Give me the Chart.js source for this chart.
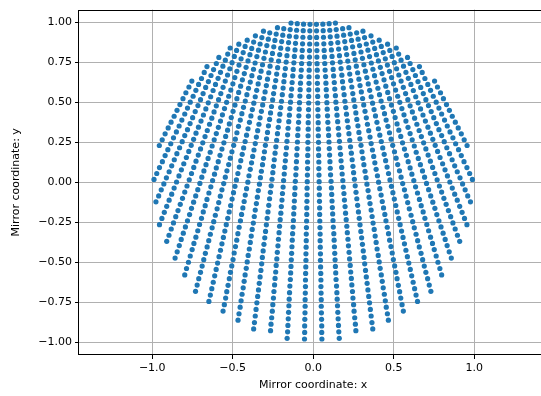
<!DOCTYPE html>
<html>
<head>
<meta charset="utf-8">
<script src="https://cdn.jsdelivr.net/npm/chart.js@4.4.1/dist/chart.umd.min.js"></script>
<style>
  html, body { margin: 0; padding: 0; background: #fff; overflow: hidden; }
  #wrap { position: relative; width: 550px; height: 396px; }
</style>
</head>
<body>
<div id="wrap"><canvas id="mirrorChart" width="550" height="396"></canvas></div>
<script>
// Tick labels
const xTicks = [-1.0, -0.5, 0.0, 0.5, 1.0];
const yTicks = [-1.0, -0.75, -0.5, -0.25, 0.0, 0.25, 0.5, 0.75, 1.0];

// Points, one list per fan column (inner column first).
// y values are the same for the left and the right column of a pair.
const columnY = [
  [.988,.947,.906,.865,.824,.783,.742,.701,.660,.619,.578,.537,.496,.455,.414,.373,.332,.291,.250,.209,.168,.127,.086,.045,.004,-.037,-.078,-.119,-.160,-.201,-.242,-.283,-.324,-.365,-.406,-.447,-.488,-.529,-.570,-.611,-.652,-.693,-.734,-.775,-.816,-.857,-.898,-.939,-.980],
  [.989,.948,.907,.866,.825,.784,.743,.702,.661,.620,.579,.539,.498,.457,.416,.375,.334,.293,.252,.211,.170,.129,.088,.047,.006,-.035,-.076,-.117,-.158,-.198,-.239,-.280,-.321,-.362,-.403,-.444,-.485,-.526,-.567,-.608,-.649,-.690,-.731,-.772,-.813,-.854,-.895,-.935,-.976],
  [.992,.951,.910,.869,.828,.787,.747,.706,.665,.624,.583,.542,.501,.461,.420,.379,.338,.297,.256,.216,.175,.134,.093,.052,.011,-.030,-.070,-.111,-.152,-.193,-.234,-.275,-.315,-.356,-.397,-.438,-.479,-.520,-.561,-.601,-.642,-.683,-.724,-.765,-.806,-.847,-.887,-.928],
  [.996,.955,.914,.874,.833,.792,.752,.711,.670,.629,.589,.548,.507,.467,.426,.385,.344,.304,.263,.222,.182,.141,.100,.060,.019,-.022,-.063,-.103,-.144,-.185,-.225,-.266,-.307,-.347,-.388,-.429,-.470,-.510,-.551,-.592,-.632,-.673,-.714,-.754,-.795,-.836,-.877,-.917],
  [.961,.920,.880,.839,.799,.758,.717,.677,.636,.596,.555,.515,.474,.434,.393,.353,.312,.272,.231,.191,.150,.110,.069,.029,-.012,-.052,-.093,-.133,-.174,-.214,-.255,-.295,-.336,-.376,-.417,-.457,-.498,-.538,-.579,-.619,-.660,-.700,-.741,-.781,-.822,-.862],
  [.967,.927,.887,.847,.806,.766,.726,.685,.645,.605,.565,.524,.484,.444,.403,.363,.323,.283,.242,.202,.162,.122,.081,.041,.001,-.040,-.080,-.120,-.160,-.201,-.241,-.281,-.321,-.362,-.402,-.442,-.483,-.523,-.563,-.603,-.644,-.684,-.724,-.765,-.805],
  [.935,.895,.855,.815,.775,.735,.695,.655,.615,.575,.535,.495,.455,.415,.375,.335,.295,.255,.215,.175,.135,.095,.055,.015,-.025,-.065,-.105,-.145,-.185,-.225,-.265,-.305,-.345,-.385,-.425,-.465,-.505,-.545,-.585,-.625,-.665,-.705,-.745],
  [.945,.905,.865,.826,.786,.746,.707,.667,.627,.588,.548,.508,.469,.429,.389,.350,.310,.270,.231,.191,.151,.111,.072,.032,-.008,-.047,-.087,-.127,-.166,-.206,-.246,-.285,-.325,-.365,-.404,-.444,-.484,-.524,-.563,-.603,-.643,-.682],
  [.916,.877,.837,.798,.759,.719,.680,.641,.601,.562,.523,.483,.444,.405,.365,.326,.287,.247,.208,.169,.129,.090,.051,.011,-.028,-.067,-.107,-.146,-.185,-.225,-.264,-.303,-.343,-.382,-.421,-.461,-.500,-.539,-.579],
  [.889,.850,.811,.772,.733,.694,.655,.616,.577,.538,.500,.461,.422,.383,.344,.305,.266,.227,.188,.149,.110,.071,.032,-.007,-.046,-.085,-.124,-.163,-.202,-.241,-.279,-.318,-.357,-.396,-.435,-.474],
  [.864,.825,.787,.748,.710,.671,.633,.594,.555,.517,.478,.440,.401,.363,.324,.286,.247,.209,.170,.132,.093,.055,.016,-.023,-.061,-.100,-.138,-.177,-.215,-.254,-.292,-.331,-.369],
  [.840,.802,.764,.726,.688,.650,.612,.574,.535,.497,.459,.421,.383,.345,.307,.269,.231,.193,.155,.116,.078,.040,.002,-.036,-.074,-.112,-.150,-.188,-.226,-.265],
  [.781,.743,.705,.668,.630,.593,.555,.517,.480,.442,.404,.367,.329,.292,.254,.216,.179,.141,.103,.066,.028,-.010,-.047,-.085,-.122],
  [.724,.687,.649,.612,.575,.538,.501,.464,.427,.389,.352,.315,.278,.241,.204,.167,.129,.092,.055,.018],
  [.633,.596,.560,.523,.486,.450,.413,.376,.340,.303,.266,.230]
];

const rightX = [
  [.020,.021,.021,.022,.023,.023,.024,.025,.026,.026,.027,.028,.028,.029,.030,.031,.031,.032,.033,.033,.034,.035,.035,.036,.037,.038,.038,.039,.040,.040,.041,.042,.043,.043,.044,.045,.045,.046,.047,.048,.048,.049,.050,.050,.051,.052,.053,.053,.054],
  [.060,.062,.064,.066,.068,.070,.072,.074,.077,.079,.081,.083,.085,.087,.089,.091,.094,.096,.098,.100,.102,.104,.106,.108,.111,.113,.115,.117,.119,.121,.123,.125,.128,.130,.132,.134,.136,.138,.140,.142,.145,.147,.149,.151,.153,.155,.157,.159,.162],
  [.099,.103,.106,.110,.113,.117,.120,.124,.127,.131,.134,.138,.141,.145,.148,.152,.156,.159,.163,.166,.170,.173,.177,.180,.184,.187,.191,.194,.198,.201,.205,.209,.212,.216,.219,.223,.226,.230,.233,.237,.240,.244,.247,.251,.254,.258,.262,.265],
  [.138,.143,.148,.153,.158,.163,.168,.173,.178,.182,.187,.192,.197,.202,.207,.212,.217,.222,.227,.232,.237,.242,.247,.251,.256,.261,.266,.271,.276,.281,.286,.291,.296,.301,.306,.311,.316,.320,.325,.330,.335,.340,.345,.350,.355,.360,.365,.370],
  [.183,.189,.196,.202,.208,.215,.221,.227,.233,.240,.246,.252,.259,.265,.271,.278,.284,.290,.297,.303,.309,.315,.322,.328,.334,.341,.347,.353,.360,.366,.372,.379,.385,.391,.397,.404,.410,.416,.423,.429,.435,.442,.448,.454,.461,.467],
  [.222,.230,.238,.245,.253,.261,.268,.276,.284,.291,.299,.307,.314,.322,.330,.337,.345,.353,.360,.368,.376,.383,.391,.399,.406,.414,.422,.429,.437,.445,.452,.460,.468,.475,.483,.491,.498,.506,.514,.521,.529,.537,.544,.552,.560],
  [.270,.279,.288,.297,.306,.315,.324,.333,.342,.351,.360,.369,.378,.387,.396,.405,.414,.423,.432,.441,.450,.459,.468,.477,.486,.495,.504,.513,.522,.531,.540,.549,.558,.567,.576,.585,.594,.603,.612,.621,.630,.639,.648],
  [.309,.319,.330,.340,.350,.361,.371,.381,.391,.402,.412,.422,.433,.443,.453,.464,.474,.484,.494,.505,.515,.525,.536,.546,.556,.567,.577,.587,.597,.608,.618,.628,.639,.649,.659,.670,.680,.690,.700,.711,.721,.731],
  [.359,.370,.382,.393,.405,.417,.428,.440,.451,.463,.474,.486,.498,.509,.521,.532,.544,.555,.567,.579,.590,.602,.613,.625,.636,.648,.660,.671,.683,.694,.706,.717,.729,.741,.752,.764,.775,.787,.798],
  [.410,.423,.435,.448,.461,.474,.487,.499,.512,.525,.538,.551,.564,.576,.589,.602,.615,.628,.640,.653,.666,.679,.692,.704,.717,.730,.743,.756,.768,.781,.794,.807,.820,.832,.845,.858],
  [.462,.476,.490,.504,.518,.532,.546,.560,.574,.588,.602,.616,.630,.644,.658,.672,.686,.700,.714,.728,.742,.756,.770,.784,.798,.812,.826,.840,.854,.868,.882,.896,.910],
  [.516,.531,.546,.561,.576,.591,.607,.622,.637,.652,.667,.682,.697,.713,.728,.743,.758,.773,.788,.804,.819,.834,.849,.864,.879,.895,.910,.925,.940,.955],
  [.586,.602,.619,.635,.651,.668,.684,.700,.716,.733,.749,.765,.781,.798,.814,.830,.847,.863,.879,.895,.912,.928,.944,.960,.977],
  [.660,.677,.694,.712,.729,.746,.764,.781,.798,.816,.833,.850,.868,.885,.903,.920,.937,.955,.972,.989],
  [.754,.772,.791,.809,.828,.846,.864,.883,.901,.920,.938,.956]
];

const leftX = [
  [-.020,-.021,-.021,-.022,-.023,-.023,-.024,-.025,-.026,-.026,-.027,-.028,-.028,-.029,-.030,-.031,-.031,-.032,-.033,-.033,-.034,-.035,-.035,-.036,-.037,-.038,-.038,-.039,-.040,-.040,-.041,-.042,-.043,-.043,-.044,-.045,-.045,-.046,-.047,-.048,-.048,-.049,-.050,-.050,-.051,-.052,-.053,-.053,-.054],
  [-.060,-.062,-.064,-.066,-.068,-.070,-.072,-.074,-.077,-.079,-.081,-.083,-.085,-.087,-.089,-.091,-.094,-.096,-.098,-.100,-.102,-.104,-.106,-.108,-.111,-.113,-.115,-.117,-.119,-.121,-.123,-.125,-.128,-.130,-.132,-.134,-.136,-.138,-.140,-.142,-.145,-.147,-.149,-.151,-.153,-.155,-.157,-.159,-.162],
  [-.099,-.103,-.106,-.110,-.113,-.117,-.120,-.124,-.127,-.131,-.134,-.138,-.141,-.145,-.148,-.152,-.156,-.159,-.163,-.166,-.170,-.173,-.177,-.180,-.184,-.187,-.191,-.194,-.198,-.201,-.205,-.209,-.212,-.216,-.219,-.223,-.226,-.230,-.233,-.237,-.240,-.244,-.247,-.251,-.254,-.258,-.262,-.265],
  [-.138,-.143,-.148,-.153,-.158,-.163,-.168,-.173,-.178,-.182,-.187,-.192,-.197,-.202,-.207,-.212,-.217,-.222,-.227,-.232,-.237,-.242,-.247,-.251,-.256,-.261,-.266,-.271,-.276,-.281,-.286,-.291,-.296,-.301,-.306,-.311,-.316,-.320,-.325,-.330,-.335,-.340,-.345,-.350,-.355,-.360,-.365,-.370],
  [-.183,-.189,-.196,-.202,-.208,-.215,-.221,-.227,-.233,-.240,-.246,-.252,-.259,-.265,-.271,-.278,-.284,-.290,-.297,-.303,-.309,-.315,-.322,-.328,-.334,-.341,-.347,-.353,-.360,-.366,-.372,-.379,-.385,-.391,-.397,-.404,-.410,-.416,-.423,-.429,-.435,-.442,-.448,-.454,-.461,-.467],
  [-.222,-.230,-.238,-.245,-.253,-.261,-.268,-.276,-.284,-.291,-.299,-.307,-.314,-.322,-.330,-.337,-.345,-.353,-.360,-.368,-.376,-.383,-.391,-.399,-.406,-.414,-.422,-.429,-.437,-.445,-.452,-.460,-.468,-.475,-.483,-.491,-.498,-.506,-.514,-.521,-.529,-.537,-.544,-.552,-.560],
  [-.270,-.279,-.288,-.297,-.306,-.315,-.324,-.333,-.342,-.351,-.360,-.369,-.378,-.387,-.396,-.405,-.414,-.423,-.432,-.441,-.450,-.459,-.468,-.477,-.486,-.495,-.504,-.513,-.522,-.531,-.540,-.549,-.558,-.567,-.576,-.585,-.594,-.603,-.612,-.621,-.630,-.639,-.648],
  [-.309,-.319,-.330,-.340,-.350,-.361,-.371,-.381,-.391,-.402,-.412,-.422,-.433,-.443,-.453,-.464,-.474,-.484,-.494,-.505,-.515,-.525,-.536,-.546,-.556,-.567,-.577,-.587,-.597,-.608,-.618,-.628,-.639,-.649,-.659,-.670,-.680,-.690,-.700,-.711,-.721,-.731],
  [-.359,-.370,-.382,-.393,-.405,-.417,-.428,-.440,-.451,-.463,-.474,-.486,-.498,-.509,-.521,-.532,-.544,-.555,-.567,-.579,-.590,-.602,-.613,-.625,-.636,-.648,-.660,-.671,-.683,-.694,-.706,-.717,-.729,-.741,-.752,-.764,-.775,-.787,-.798],
  [-.410,-.423,-.435,-.448,-.461,-.474,-.487,-.499,-.512,-.525,-.538,-.551,-.564,-.576,-.589,-.602,-.615,-.628,-.640,-.653,-.666,-.679,-.692,-.704,-.717,-.730,-.743,-.756,-.768,-.781,-.794,-.807,-.820,-.832,-.845,-.858],
  [-.462,-.476,-.490,-.504,-.518,-.532,-.546,-.560,-.574,-.588,-.602,-.616,-.630,-.644,-.658,-.672,-.686,-.700,-.714,-.728,-.742,-.756,-.770,-.784,-.798,-.812,-.826,-.840,-.854,-.868,-.882,-.896,-.910],
  [-.516,-.531,-.546,-.561,-.576,-.591,-.607,-.622,-.637,-.652,-.667,-.682,-.697,-.713,-.728,-.743,-.758,-.773,-.788,-.804,-.819,-.834,-.849,-.864,-.879,-.895,-.910,-.925,-.940,-.955],
  [-.586,-.602,-.619,-.635,-.651,-.668,-.684,-.700,-.716,-.733,-.749,-.765,-.781,-.798,-.814,-.830,-.847,-.863,-.879,-.895,-.912,-.928,-.944,-.960,-.977],
  [-.660,-.677,-.694,-.712,-.729,-.746,-.764,-.781,-.798,-.816,-.833,-.850,-.868,-.885,-.903,-.920,-.937,-.955,-.972,-.989],
  [-.754,-.772,-.791,-.809,-.828,-.846,-.864,-.883,-.901,-.920,-.938,-.956]
];

// Build the scatter data
const points = [];
columnY.forEach((ys, i) => {
  if (rightX[i].length !== ys.length || leftX[i].length !== ys.length) {
    throw new Error("column " + i + " length mismatch");
  }
  ys.forEach((y, j) => {
    points.push({ x: leftX[i][j], y: y });
    points.push({ x: rightX[i][j], y: y });
  });
});

const FONT = "'DejaVu Sans', 'Liberation Sans', sans-serif";
const fmt = (v, d) => (v < 0 ? "\u2212" : "") + Math.abs(v).toFixed(d);

// Axes frame and axis titles, matplotlib style
const framePlugin = {
  id: "frame",
  afterDraw(chart) {
    const { ctx, chartArea: a } = chart;
    ctx.save();
    ctx.strokeStyle = "#000";
    ctx.lineWidth = 1;
    ctx.strokeRect(Math.round(a.left) - 0.5, Math.round(a.top) + 0.5,
      Math.round(a.right - a.left) + 1, Math.round(a.bottom - a.top) - 1);
    ctx.fillStyle = "#000";
    ctx.font = "11px " + FONT;
    ctx.textAlign = "center";
    ctx.textBaseline = "middle";
    ctx.fillText("Mirror coordinate: x", (a.left + a.right) / 2, 385);
    ctx.translate(16, (a.top + a.bottom) / 2);
    ctx.rotate(-Math.PI / 2);
    ctx.fillText("Mirror coordinate: y", 0, 0);
    ctx.restore();
  }
};

const ctx = document.getElementById("mirrorChart").getContext("2d");
new Chart(ctx, {
  type: "scatter",
  data: {
    datasets: [{
      data: points,
      backgroundColor: "#1f77b4",
      borderColor: "#1f77b4",
      borderWidth: 0,
      pointRadius: 2.6,
      pointHoverRadius: 2.6
    }]
  },
  options: {
    responsive: false,
    animation: false,
    devicePixelRatio: 1,
    layout: { padding: { top: 6, right: 1, left: 0, bottom: 0 } },
    plugins: {
      legend: { display: false },
      tooltip: { enabled: false }
    },
    scales: {
      x: {
        type: "linear",
        min: -1.455,
        max: 1.455,
        afterBuildTicks: (s) => { s.ticks = xTicks.map((v) => ({ value: v })); },
        afterFit: (s) => { s.height = 41; },
        ticks: {
          callback: (v) => fmt(v, 1),
          color: "#000",
          font: { family: FONT, size: 11 },
          padding: 3,
          maxRotation: 0,
          autoSkip: false
        },
        grid: { color: "#b0b0b0", lineWidth: 1, tickLength: 4, tickColor: "#000", tickWidth: 1 },
        border: { display: false }
      },
      y: {
        type: "linear",
        min: -1.08,
        max: 1.08,
        afterBuildTicks: (s) => { s.ticks = yTicks.map((v) => ({ value: v })); },
        afterFit: (s) => { s.width = 79; },
        ticks: {
          callback: (v) => fmt(v, 2),
          color: "#000",
          font: { family: FONT, size: 11 },
          padding: 3,
          autoSkip: false
        },
        grid: { color: "#b0b0b0", lineWidth: 1, tickLength: 4, tickColor: "#000", tickWidth: 1 },
        border: { display: false }
      }
    }
  },
  plugins: [framePlugin]
});
</script>
</body>
</html>
